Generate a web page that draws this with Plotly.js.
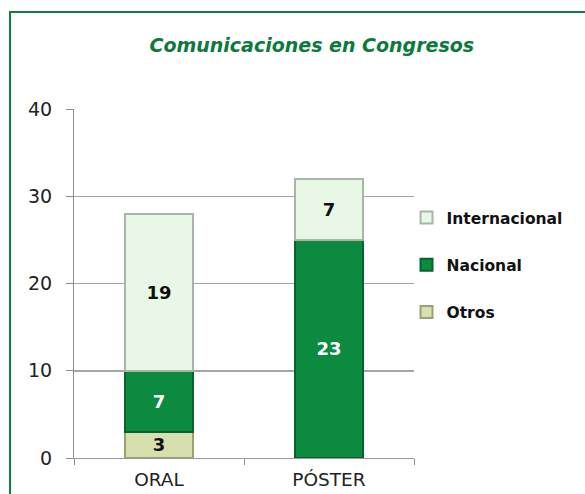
<!DOCTYPE html>
<html>
<head>
<meta charset="utf-8">
<script src="https://cdn.plot.ly/plotly-3.0.1.min.js"></script>
<style>
  html, body { margin: 0; padding: 0; background: #fff; }
  #wrap { position: relative; width: 585px; height: 494px; overflow: hidden; }
  #chart { width: 585px; height: 494px; }
  #frame { position: absolute; left: 9px; top: 11px; width: 600px; height: 520px;
           border-top: 2px solid #0b8040; border-left: 2px solid #0b8040; pointer-events: none; }
</style>
</head>
<body>
<div id="wrap">
  <div id="chart"></div>
  <div id="frame"></div>
</div>
<script>
const categories = ["ORAL", "PÓSTER"];
const otros = [3, 0];
const nacional = [7, 25];
const internacional = [18, 7];
const otrosLabels = ["3", ""];
const nacionalLabels = ["7", "23"];
const internacionalLabels = ["19", "7"];

const labelFont = { family: "DejaVu Sans", size: 18, weight: "bold" };

const traces = [
  {
    type: "bar", name: "Otros", x: categories, y: otros,
    text: otrosLabels, textposition: "inside", insidetextanchor: "middle",
    constraintext: "none", textangle: 0,
    textfont: Object.assign({ color: "#111" }, labelFont),
    marker: { color: "#d8dfae", line: { color: "#9aa274", width: 2 } },
    legendgroup: "o", legendrank: 3, hoverinfo: "none"
  },
  {
    type: "bar", name: "Nacional", x: categories, y: nacional,
    text: nacionalLabels, textposition: "inside", insidetextanchor: "middle",
    constraintext: "none", textangle: 0,
    textfont: Object.assign({ color: "#ffffff" }, labelFont),
    marker: { color: "#0b8a40", line: { color: "#06632f", width: 2 } },
    legendgroup: "n", legendrank: 2, hoverinfo: "none"
  },
  {
    type: "bar", name: "Internacional", x: categories, y: internacional,
    text: internacionalLabels, textposition: "inside", insidetextanchor: "middle",
    constraintext: "none", textangle: 0,
    textfont: Object.assign({ color: "#111" }, labelFont),
    marker: { color: "#e9f7e6", line: { color: "#a9b5a9", width: 2 } },
    legendgroup: "i", legendrank: 1, hoverinfo: "none"
  }
];

const layout = {
  width: 585, height: 494,
  margin: { l: 74, r: 171, t: 109, b: 36 },
  paper_bgcolor: "#ffffff", plot_bgcolor: "#ffffff",
  barmode: "stack", bargap: 0.6,
  showlegend: true,
  title: {
    text: "<b><i>Comunicaciones en Congresos</i></b>",
    font: { family: "DejaVu Sans", size: 19, color: "#0b7a3a" },
    x: 0.533, xanchor: "center", y: 0.908, yanchor: "middle"
  },
  font: { family: "DejaVu Sans", color: "#222" },
  xaxis: {
    type: "category", tickson: "boundaries", ticks: "outside", ticklen: 6,
    tickcolor: "#8c8c8c", showline: true, linecolor: "#9a9a9a", linewidth: 1,
    showgrid: false, tickfont: { family: "DejaVu Sans", size: 18.5, color: "#222" },
    ticklabelstandoff: 5,
    fixedrange: true
  },
  yaxis: {
    range: [0, 40], dtick: 10, ticks: "outside", ticklen: 7, tickcolor: "#8c8c8c",
    showline: true, linecolor: "#8c8c8c", linewidth: 1,
    showgrid: true, gridcolor: "#a6a6a6", gridwidth: 1.5, zeroline: false,
    tickfont: { family: "DejaVu Sans", size: 19, color: "#222" },
    ticklabelstandoff: 10,
    fixedrange: true
  },
  legend: {
    x: 0.978, xanchor: "left", y: 0.553, yanchor: "middle",
    traceorder: "grouped", tracegroupgap: 24,
    font: { family: "DejaVu Sans", size: 15.5, color: "#111", weight: "bold" },
    itemwidth: 30, bgcolor: "rgba(0,0,0,0)"
  }
};

Plotly.newPlot("chart", traces, layout, { staticPlot: true, displayModeBar: false });
</script>
</body>
</html>
